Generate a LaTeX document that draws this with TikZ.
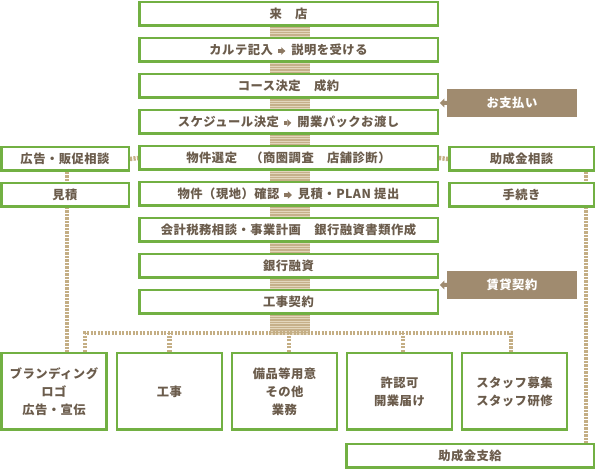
\documentclass[tikz,border=0pt]{standalone}
\usepackage{fontspec}
\setmainfont{Noto Sans CJK JP}[LetterSpace=4]
\usetikzlibrary{calc}
\definecolor{grn}{HTML}{72B043}
\definecolor{txt}{HTML}{6B5C4C}
\definecolor{tan}{HTML}{C4AE84}
\definecolor{barbase}{HTML}{E3D6BC}
\definecolor{barline}{HTML}{C6B08A}
\definecolor{brn}{HTML}{A08B6F}
\definecolor{arrc}{HTML}{8C7862}
\newcommand\rarr{\hspace{5pt}\tikz[baseline=-0.55ex]{\fill[arrc] (0,-1.8pt) rectangle (3.6pt,1.8pt);\fill[arrc] (3.4pt,-3.8pt) -- (7.4pt,0pt) -- (3.4pt,3.8pt) -- cycle;}\hspace{6pt}}
\begin{document}
\begin{tikzpicture}[x=1pt,y=-1pt,
  box/.style={draw=grn, line width=2.5pt, fill=white, inner sep=0pt, text=txt,
    font=\fontsize{12.3}{18}\selectfont\bfseries, align=center},
  mbox/.style={box, minimum width=298.5pt, minimum height=23.5pt},
  sidel/.style={box, minimum width=127.5pt, minimum height=23.5pt},
  sider/.style={box, minimum width=144.5pt, minimum height=23.5pt},
  bbox/.style={box, minimum width=105pt, minimum height=76.5pt},
  pay/.style={fill=brn, text=white, inner sep=0pt, minimum width=130pt, minimum height=28pt,
    font=\fontsize{12.3}{14}\selectfont\bfseries},
  dsh/.style={draw=tan, line width=4.5pt, dash pattern=on 2.2pt off 1.3pt}]
\useasboundingbox (0,0) rectangle (595,470);
% striped bar behind main column
\fill[barbase] (270,27) rectangle (310,335);
\foreach \yy in {27.5,30,...,334} {\draw[barline, line width=1.3pt] (270,\yy) -- (310,\yy);}
% named coordinates for connectors
\coordinate (hl) at (85,333);
\coordinate (hr) at (511,333);
\coordinate (vl) at (67,0);
\coordinate (vr) at (586,0);
\coordinate (d3) at (289,333);
\coordinate (d4) at (403,333);
% bottom boxes
\node[bbox] (brand) at (54,391.5) {ブランディング\\ロゴ\\広告・宣伝};
\node[bbox] (kouji) at (169.5,391.5) {工事};
\node[bbox] (bihin) at (284.5,391.5) {備品等用意\\その他\\業務};
\node[bbox] (kyoka) at (399.5,391.5) {許認可\\開業届け};
\node[bbox] (staff) at (514.5,391.5) {スタッフ募集\\スタッフ研修};
\node[box, minimum width=247.5pt, minimum height=23.5pt] (shikyu) at (470,456) {助成金支給};
% side boxes
\node[sidel] (kokoku) at (65,159) {広告・販促相談};
\node[sidel] (mitsu) at (65,195) {見積};
\node[sider] (josei) at (521.5,159) {助成金相談};
\node[sider] (tetsu) at (521.5,195) {手続き};
% dashed connectors
\draw[dsh] (kokoku.south -| vl) -- (brand.north -| vl);
\draw[dsh] (josei.south -| vr) -- (shikyu.north -| vr);
\draw[dsh] (brand.north -| hl) -- (hl) -- (hr) -- (staff.north -| hr);
\draw[dsh] (kouji.north) -- (kouji.north |- hl);
\draw[dsh] (bihin.north -| d3) -- (d3);
\draw[dsh] (kyoka.north -| d4) -- (d4);
% redraw side boxes on top
\node[sidel] at (kokoku) {広告・販促相談};
\node[sidel] at (mitsu) {見積};
\node[sider] at (josei) {助成金相談};
\node[sider] at (tetsu) {手続き};
% main column
\node[mbox] (m1) at (288.5,14) {来　店};
\node[mbox] (m2) at (288.5,50) {カルテ記入\rarr 説明を受ける};
\node[mbox] (m3) at (288.5,86) {コース決定　成約};
\node[mbox] (m4) at (288.5,122) {スケジュール決定\rarr 開業パックお渡し};
\node[mbox] (m5) at (288.5,158) {物件選定　（商圏調査　店舗診断）};
\node[mbox] (m6) at (288.5,194) {物件（現地）確認\rarr 見積・PLAN 提出};
\node[mbox] (m7) at (288.5,230) {会計税務相談・事業計画　銀行融資書類作成};
\node[mbox] (m8) at (288.5,266) {銀行融資};
\node[mbox] (m9) at (288.5,302) {工事契約};
% short dashed links to side boxes
\draw[dsh] (kokoku.east) -- (m5.west);
\draw[dsh] (m5.east) -- (josei.west);
% brown boxes with pointers
\node[pay] (pay) at (512,103) {お支払い};
\node[pay] (lease) at (512,285) {賃貸契約};
\foreach \b in {pay,lease} {
  \fill[brn] ($(\b.west)+(0,-2)$) -- ++(-2.5,0) -- ++(0,-2.5) -- ++(-4.5,4.5) -- ++(4.5,4.5) -- ++(0,-2.5) -- ++(2.5,0) -- cycle;
}
\end{tikzpicture}
\end{document}
